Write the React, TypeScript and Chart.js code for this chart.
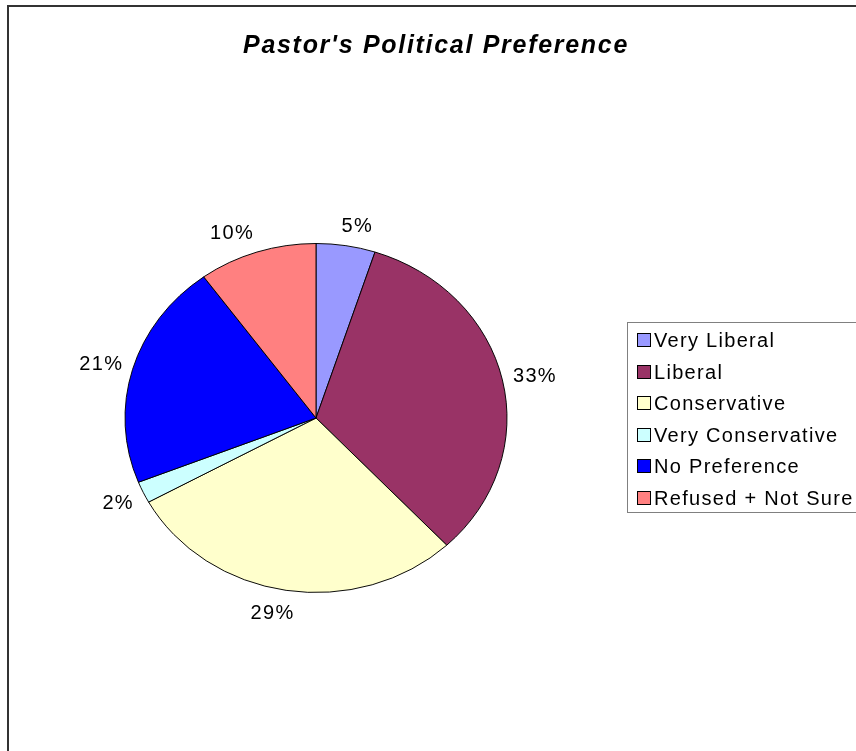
import React, { useEffect, useRef } from "react";
import { Chart, registerables } from "chart.js";

Chart.register(...registerables);

// ---- data ----
const TITLE = "Pastor's Political Preference";
const CATEGORIES = [
  "Very Liberal",
  "Liberal",
  "Conservative",
  "Very Conservative",
  "No Preference",
  "Refused + Not Sure",
];
const VALUES = [5, 33, 29, 2, 21, 10];
const COLORS = ["#9999FF", "#993366", "#FFFFCC", "#CCFFFF", "#0000FF", "#FF8080"];

// ---- layout ----
const W = 856;
const H = 751;
const PIE_CX = 316;
const PIE_CY = 418;
const PIE_R = 191;
const Y_SQUASH = 0.9136;
const FONT = '"Liberation Sans", Arial, sans-serif';

const clamp = (v: number, a: number, b: number) => Math.max(a, Math.min(b, v));

const framePlugin = {
  id: "frame",
  beforeDraw(chart: any) {
    const ctx = chart.ctx;
    ctx.save();
    ctx.fillStyle = "#ffffff";
    ctx.fillRect(0, 0, W, H);
    ctx.strokeStyle = "#333333";
    ctx.lineWidth = 2;
    ctx.strokeRect(8, 6, W + 40, H + 40);
    ctx.restore();
  },
};

const squashPlugin = {
  id: "squash",
  beforeDatasetsDraw(chart: any) {
    const ctx = chart.ctx;
    const arc = chart.getDatasetMeta(0).data[0];
    const cy = arc ? arc.y : PIE_CY;
    ctx.save();
    ctx.translate(0, cy);
    ctx.scale(1, Y_SQUASH);
    ctx.translate(0, -cy);
  },
  afterDatasetsDraw(chart: any) {
    chart.ctx.restore();
  },
};

const labelsPlugin = {
  id: "excelLabels",
  afterDraw(chart: any) {
    const ctx = chart.ctx;
    const meta = chart.getDatasetMeta(0);
    const data = chart.data.datasets[0].data as number[];
    const total = data.reduce((a, b) => a + b, 0);
    ctx.save();
    ctx.font = `20px ${FONT}`;
    (ctx as any).letterSpacing = "1.3px";
    ctx.fillStyle = "#000000";
    ctx.textAlign = "left";
    ctx.textBaseline = "alphabetic";
    meta.data.forEach((arc: any, i: number) => {
      const text = Math.round((data[i] / total) * 100) + "%";
      const mid = (arc.startAngle + arc.endAngle) / 2;
      const ux = Math.cos(mid);
      const uy = Math.sin(mid);
      const gap = 10 + 4 * Math.abs(uy);
      const px = arc.x + (arc.outerRadius + gap) * ux;
      const py = arc.y + arc.outerRadius * uy * Y_SQUASH + gap * uy;
      const w = ctx.measureText(text).width - 1.3;
      const h = 14.5;
      const fx = clamp(0.5 - 1.8 * ux, 0, 1);
      const fy = clamp(0.5 - 0.8 * uy, 0, 1);
      const left = px - w * fx;
      const top = py - h * fy;
      ctx.fillText(text, left, top + h);
    });
    ctx.restore();

    // title
    ctx.save();
    ctx.font = `italic bold 25px ${FONT}`;
    (ctx as any).letterSpacing = "1.7px";
    ctx.fillStyle = "#000000";
    ctx.textAlign = "center";
    ctx.textBaseline = "alphabetic";
    ctx.fillText(TITLE, 436, 53);
    ctx.restore();

    // legend
    ctx.save();
    ctx.strokeStyle = "#808080";
    ctx.lineWidth = 1;
    ctx.strokeRect(627.5, 322.5, 260, 190);
    ctx.font = `20px ${FONT}`;
    (ctx as any).letterSpacing = "1.3px";
    ctx.textAlign = "left";
    ctx.textBaseline = "alphabetic";
    CATEGORIES.forEach((name, i) => {
      const base = 347 + i * 31.6;
      ctx.fillStyle = COLORS[i];
      ctx.fillRect(637.5, Math.round(base) - 13.5, 13, 13);
      ctx.strokeStyle = "#000000";
      ctx.strokeRect(637.5, Math.round(base) - 13.5, 13, 13);
      ctx.fillStyle = "#000000";
      ctx.fillText(name, 654, base);
    });
    ctx.restore();
  },
};

export default function App() {
  const ref = useRef<HTMLCanvasElement | null>(null);

  useEffect(() => {
    document.body.style.margin = "0";
    const canvas = ref.current;
    if (!canvas) return;
    const padL = 100;
    const padR = padL + (W - 2 * PIE_CX);
    const padB = 65;
    const padT = padB + (2 * PIE_CY - H);
    const chart = new Chart(canvas, {
      type: "pie",
      data: {
        labels: CATEGORIES,
        datasets: [
          {
            data: VALUES,
            backgroundColor: COLORS,
            borderColor: "#000000",
            borderWidth: 1,
            radius: PIE_R,
          } as any,
        ],
      },
      options: {
        responsive: false,
        animation: false,
        devicePixelRatio: 1,
        layout: { padding: { left: padL, right: padR, top: padT, bottom: padB } },
        plugins: {
          legend: { display: false },
          title: { display: false },
          tooltip: { enabled: false },
        },
      },
      plugins: [framePlugin, squashPlugin, labelsPlugin],
    });
    return () => chart.destroy();
  }, []);

  return (
    <canvas
      ref={ref}
      width={W}
      height={H}
      style={{ display: "block", width: W, height: H }}
    />
  );
}
